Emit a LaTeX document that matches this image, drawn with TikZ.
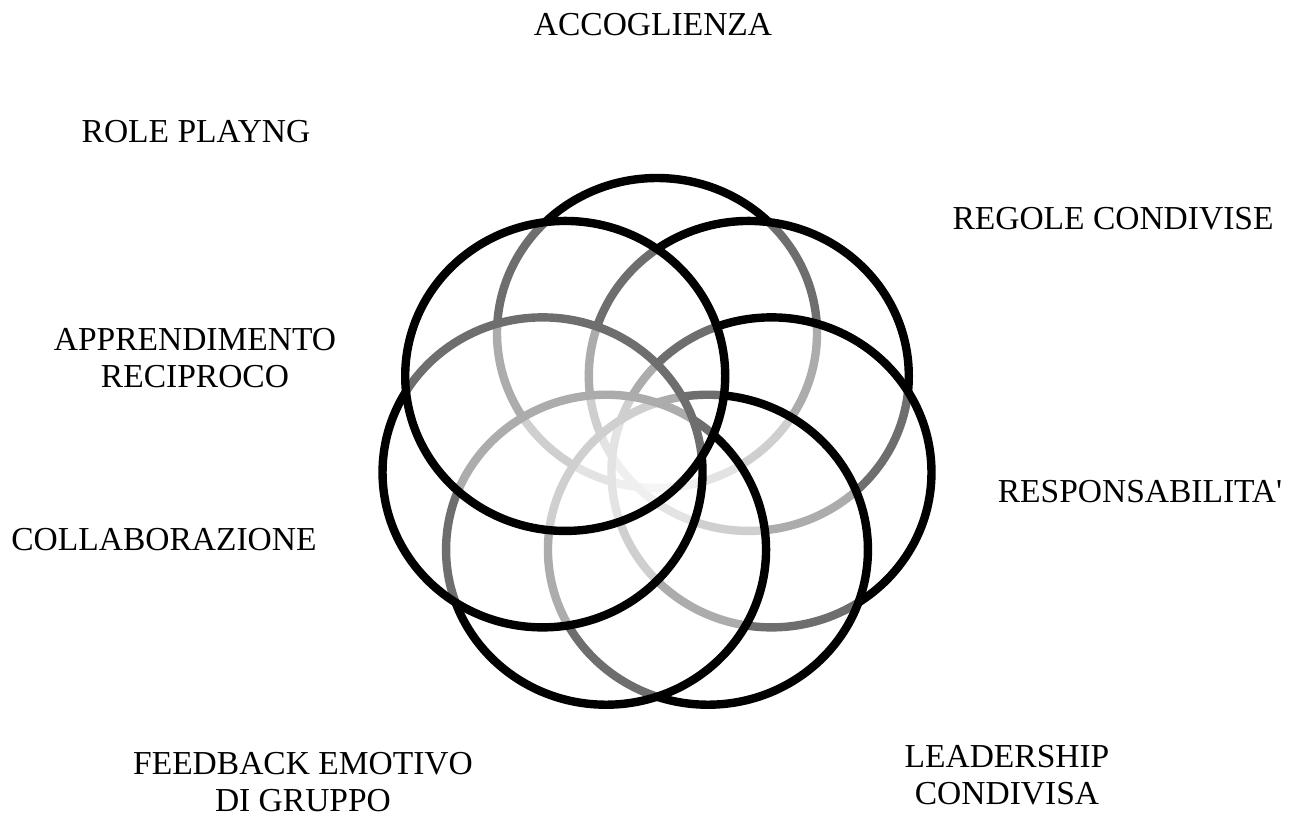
\documentclass[tikz,border=0pt]{standalone}
\usepackage{fontspec}
\setmainfont{Liberation Serif}
\begin{document}
\begin{tikzpicture}[x=0.5pt,y=-0.5pt,
  ring/.style={line width=4.2pt, draw=black, fill=white, fill opacity=0.43, draw opacity=1},
  lbl/.style={font=\fontsize{16.75}{18.5}\selectfont, inner sep=0pt, anchor=north, align=center, text=black}]
\fill[white] (0,0) rectangle (1300,816);
\useasboundingbox (0,0) rectangle (1300,816);
\coordinate (O) at (657,447);
\foreach \a in {90, 38.5714, -12.8571, -64.2857, -115.7143, -167.1429, 141.4286} {
  \filldraw[ring] ({657+1.03*114*cos(\a)}, {447-114*sin(\a)}) ellipse[x radius=80pt, y radius=77.5pt];
}
\node[lbl] (acc) at (653,13) {ACCOGLIENZA};
\node[lbl] (role) at (196,120) {ROLE PLAYNG};
\node[lbl] (reg) at (1113,207) {REGOLE CONDIVISE};
\node[lbl] (resp) at (1140,480) {RESPONSABILITA\textquotesingle};
\node[lbl] (app) at (195,328) {APPRENDIMENTO\\RECIPROCO};
\node[lbl] (coll) at (164,528) {COLLABORAZIONE};
\node[lbl] (feed) at (303,752) {FEEDBACK EMOTIVO\\DI GRUPPO};
\node[lbl] (lead) at (1007,745) {LEADERSHIP\\CONDIVISA};
\end{tikzpicture}
\end{document}
